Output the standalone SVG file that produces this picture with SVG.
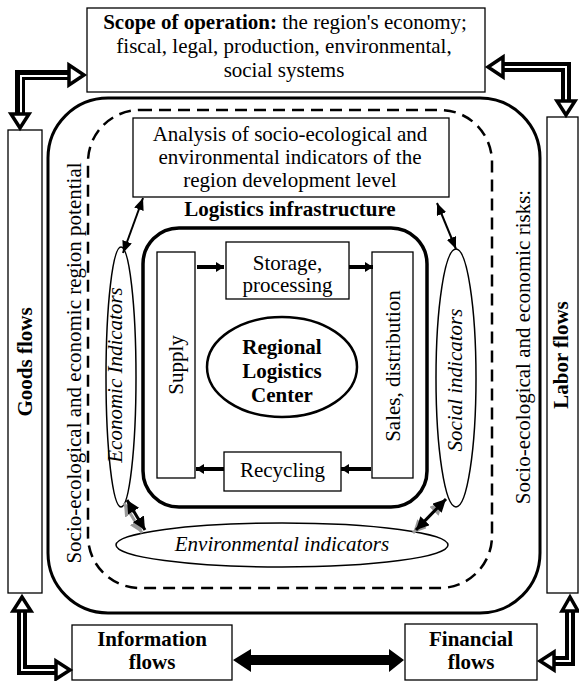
<svg xmlns="http://www.w3.org/2000/svg" width="579" height="681" viewBox="0 0 579 681">
<style>
text{font-family:"Liberation Serif","Times New Roman",serif;font-size:21px;fill:#000}
.b{font-weight:bold}
.i{font-style:italic}
.m{text-anchor:middle}
.box{fill:#fff;stroke:#000;stroke-width:1.3}
.ell{fill:#fff;stroke:#000;stroke-width:1.5}
.fat{fill:none;stroke:#000;stroke-width:10;stroke-linejoin:miter}
.fatin{fill:none;stroke:#fff;stroke-width:2}
.hh{fill:#fff;stroke:#000;stroke-width:3.5;stroke-linejoin:miter}
.thin{stroke:#000;stroke-width:2;fill:none}
.sh{stroke:#000;stroke-width:3;fill:none}
.shg{stroke:#999;stroke-width:3;fill:none}
.small{stroke:#000;stroke-width:4;fill:none}
</style>
<defs>
<marker id="ah" viewBox="0 0 12 10" refX="12" refY="5" markerWidth="12" markerHeight="10" markerUnits="userSpaceOnUse" orient="auto-start-reverse"><path d="M0,0 L12,5 L0,10 z" fill="#000"/></marker>
<marker id="ahb" viewBox="0 0 12 12" refX="12" refY="6" markerWidth="13" markerHeight="13" markerUnits="userSpaceOnUse" orient="auto-start-reverse"><path d="M0,0 L12,6 L0,12 z" fill="#000"/></marker>
<marker id="ahg" viewBox="0 0 12 12" refX="12" refY="6" markerWidth="13" markerHeight="13" markerUnits="userSpaceOnUse" orient="auto-start-reverse"><path d="M0,0 L12,6 L0,12 z" fill="#999"/></marker>
<marker id="as" viewBox="0 0 8 10" refX="8" refY="5" markerWidth="8" markerHeight="10" markerUnits="userSpaceOnUse" orient="auto"><path d="M0,0 L8,5 L0,10 z" fill="#000"/></marker>
</defs>

<!-- frames -->
<g id="outer-frame">
<rect x="48" y="98" width="492" height="515" rx="60" ry="60" fill="none" stroke="#000" stroke-width="3"/>
</g>
<g id="dashed-frame">
<rect x="88" y="110" width="404" height="478" rx="52" ry="52" fill="none" stroke="#000" stroke-width="2.5" stroke-dasharray="12 7"/>
</g>
<g id="logistics-infrastructure">
<rect x="143" y="228" width="284" height="279" rx="36" ry="36" fill="none" stroke="#000" stroke-width="3.5"/>
<text class="b m" x="290" y="216">Logistics infrastructure</text>
</g>

<g id="scope">
<rect class="box" x="87" y="8" width="398" height="84"/>
<text class="m" x="285" y="29"><tspan class="b">Scope of operation:</tspan> the region's economy;</text>
<text class="m" x="284" y="53">fiscal, legal, production, environmental,</text>
<text class="m" x="284" y="77">social systems</text>
</g>

<g id="analysis">
<rect class="box" x="133" y="118" width="316" height="79"/>
<text class="m" x="290" y="141">Analysis of socio-ecological and</text>
<text class="m" x="290" y="164">environmental indicators of the</text>
<text class="m" x="290" y="187">region development level</text>
</g>

<g id="goods-flows">
<rect class="box" x="8" y="130" width="34" height="463"/>
<text class="b m" transform="translate(32,362) rotate(-90)">Goods flows</text>
</g>
<g id="labor-flows">
<rect class="box" x="547" y="117" width="31" height="476"/>
<text class="b m" transform="translate(568,355) rotate(-90)">Labor flows</text>
</g>

<g id="potential-label">
<text class="m" transform="translate(81,363) rotate(-90)">Socio-ecological and economic region potential</text>
</g>
<g id="risks-label">
<text class="m" transform="translate(530,347) rotate(-90)">Socio-ecological and economic risks:</text>
</g>

<g id="economic-indicators">
<ellipse class="ell" cx="121" cy="377" rx="15" ry="130"/>
<text class="i m" transform="translate(122,375) rotate(-90)">Economic Indicators</text>
</g>
<g id="social-indicators">
<ellipse class="ell" cx="456" cy="378" rx="20" ry="129"/>
<text class="i m" transform="translate(462,380) rotate(-90)">Social indicators</text>
</g>
<g id="environmental-indicators">
<ellipse class="ell" cx="282" cy="545" rx="166" ry="22"/>
<text class="i m" x="282" y="551">Environmental indicators</text>
</g>

<g id="supply">
<rect class="box" x="157" y="252" width="38" height="226"/>
<text class="m" transform="translate(183,365) rotate(-90)">Supply</text>
</g>
<g id="sales">
<rect class="box" x="372" y="252" width="41" height="226"/>
<text class="m" transform="translate(400,366) rotate(-90)">Sales, distribution</text>
</g>
<g id="storage">
<rect class="box" x="226" y="242" width="123" height="57"/>
<text class="m" x="287.5" y="270">Storage,</text>
<text class="m" x="287.5" y="292">processing</text>
</g>
<g id="recycling">
<rect class="box" x="224" y="452" width="117" height="39"/>
<text class="m" x="282.5" y="477">Recycling</text>
</g>
<g id="rlc">
<ellipse cx="282" cy="367" rx="75" ry="50" fill="#fff" stroke="#000" stroke-width="2.5"/>
<text class="b m" x="282" y="354">Regional</text>
<text class="b m" x="282" y="378">Logistics</text>
<text class="b m" x="282" y="402">Center</text>
</g>

<g id="information-flows">
<rect class="box" x="72" y="625" width="160" height="55"/>
<text class="b m" x="152" y="646">Information</text>
<text class="b m" x="152" y="669">flows</text>
</g>
<g id="financial-flows">
<rect class="box" x="405" y="624" width="132" height="56"/>
<text class="b m" x="471" y="646">Financial</text>
<text class="b m" x="471" y="669">flows</text>
</g>

<g id="connectors">
<!-- inner small arrows -->
<line class="small" x1="197" y1="267" x2="224" y2="267" marker-end="url(#as)"/>
<line class="small" x1="349" y1="267" x2="373" y2="267" marker-end="url(#as)"/>
<line class="small" x1="371" y1="469" x2="341" y2="469" marker-end="url(#as)"/>
<line class="small" x1="224" y1="469" x2="196" y2="469" marker-end="url(#as)"/>
<!-- thin double arrows -->
<line class="thin" x1="143" y1="198" x2="123" y2="253" marker-start="url(#ah)" marker-end="url(#ah)"/>
<line class="thin" x1="437" y1="203" x2="456" y2="249" marker-start="url(#ah)" marker-end="url(#ah)"/>
<!-- shadowed double arrows -->
<line class="shg" x1="124" y1="503" x2="142" y2="533" marker-start="url(#ahg)" marker-end="url(#ahg)"/>
<line class="sh" x1="127" y1="500" x2="145" y2="530" marker-start="url(#ahb)" marker-end="url(#ahb)"/>
<line class="shg" x1="443" y1="502" x2="413" y2="533" marker-start="url(#ahg)" marker-end="url(#ahg)"/>
<line class="sh" x1="446" y1="499" x2="416" y2="530" marker-start="url(#ahb)" marker-end="url(#ahb)"/>
<!-- big bottom arrow -->
<polygon points="233,660 251,649 251,655 389,655 389,649 404,660 389,672 389,665 251,665 251,672" fill="#000"/>
<!-- corner arrows -->
<path class="fat" d="M70 75 H20 V113"/>
<path class="fatin" d="M70 76 H21 V113"/>
<polygon class="hh" points="69,65 84,75 69,85"/>
<polygon class="hh" points="11,114 29,114 20,128"/>

<path class="fat" d="M502 67 H566 V100"/>
<path class="fatin" d="M502 67 H566 V100"/>
<polygon class="hh" points="503,57 488,67 503,77"/>
<polygon class="hh" points="557,101 575,101 566,115"/>

<path class="fat" d="M22 611 V670 H56"/>
<path class="fatin" d="M22 611 V670 H56"/>
<polygon class="hh" points="13,611 31,611 22,597"/>
<polygon class="hh" points="56,661 70,670 56,679"/>

<path class="fat" d="M570 611 V661 H554"/>
<path class="fatin" d="M570 611 V661 H554"/>
<polygon class="hh" points="562,611 578,611 570,597"/>
<polygon class="hh" points="554,652 540,661 554,670"/>
</g>
</svg>
